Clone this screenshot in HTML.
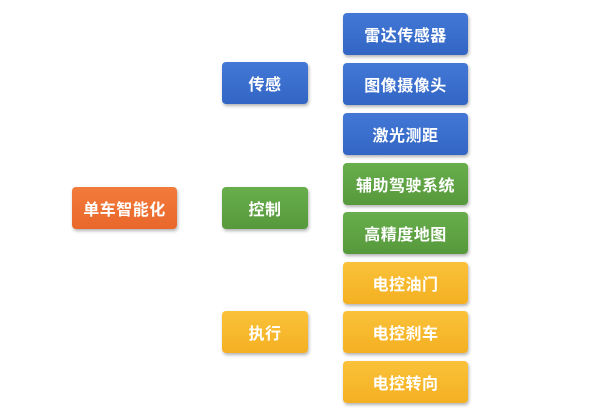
<!DOCTYPE html>
<html><head><meta charset="utf-8"><style>
html,body{margin:0;padding:0;background:#fff;}
body{width:600px;height:420px;position:relative;overflow:hidden;font-family:"Liberation Sans","Noto Sans CJK SC",sans-serif;}
.b{position:absolute;color:#fff;font-size:16px;font-weight:bold;display:flex;align-items:center;justify-content:center;border-radius:4px;box-shadow:1px 2px 3px rgba(0,0,0,0.3);letter-spacing:0.5px;}
.bl{background:linear-gradient(#4378d6,#3366c4);}
.g{background:linear-gradient(#68ae4c,#56993c);}
.y{background:linear-gradient(#fac23a,#f4b022);}
.o{background:linear-gradient(#f27b3c,#e9672a);}
.r{left:343px;width:125px;height:42px;}
.m{left:222px;width:86px;height:42px;}
</style></head><body>
<div class="b o" style="left:72px;top:187px;width:105px;height:42px;">单车智能化</div>
<div class="b bl m" style="top:62px;">传感</div>
<div class="b g m" style="top:187px;">控制</div>
<div class="b y m" style="top:311px;">执行</div>
<div class="b bl r" style="top:13px;">雷达传感器</div>
<div class="b bl r" style="top:63px;">图像摄像头</div>
<div class="b bl r" style="top:113px;">激光测距</div>
<div class="b g r" style="top:163px;">辅助驾驶系统</div>
<div class="b g r" style="top:212px;">高精度地图</div>
<div class="b y r" style="top:262px;">电控油门</div>
<div class="b y r" style="top:311px;">电控刹车</div>
<div class="b y r" style="top:361px;">电控转向</div>
</body></html>
